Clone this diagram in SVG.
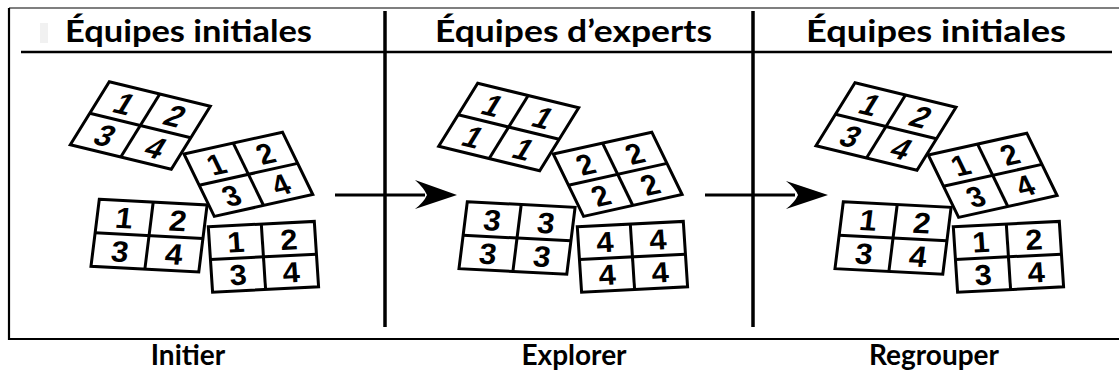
<svg xmlns="http://www.w3.org/2000/svg" width="1119" height="381" viewBox="0 0 1119 381">
  <defs>
    <style>
      .hdr { font-family: Lato, "Open Sans", "Liberation Sans", sans-serif; font-weight: 700; font-size: 31px; fill: #000; }
      .step { font-family: Lato, "Open Sans", "Liberation Sans", sans-serif; font-weight: 700; font-size: 28px; fill: #000; text-anchor: middle; }
      .box { fill: #fff; stroke: #000; stroke-width: 3; vector-effect: non-scaling-stroke; }
      .div { stroke: #000; stroke-width: 3; vector-effect: non-scaling-stroke; }
      .card text { font-family: "Liberation Sans", Arial, sans-serif; font-weight: 700; font-size: 29px; fill: #000; text-anchor: middle; }
      .rule { stroke: #000; fill: none; }
      .conn line { stroke: #000; stroke-width: 3; }
      .conn path { fill: #000; }
    </style>
    <!-- one 2x2 team card in local units (100 x 66) -->
    <g id="grid">
      <rect class="box" x="0" y="0" width="100" height="66"/>
      <line class="div" x1="50" y1="0" x2="50" y2="66"/>
      <line class="div" x1="0" y1="33" x2="100" y2="33"/>
    </g>
  </defs>

  <rect width="1119" height="381" fill="#fff"/>

  <!-- outer frame -->
  <line x1="9" y1="8" x2="1119" y2="8" stroke="#555" stroke-width="1.5"/>
  <path class="rule" d="M9,8 V339 H1119" stroke-width="2.2" stroke="#111"/>
  <rect x="40" y="23" width="8" height="20" fill="#f1f1f1"/>

  <!-- header band -->
  <g id="headers">
    <text class="hdr" x="65" y="42" textLength="247" lengthAdjust="spacingAndGlyphs">Équipes initiales</text>
    <text class="hdr" x="435" y="42" textLength="277" lengthAdjust="spacingAndGlyphs">Équipes d’experts</text>
    <text class="hdr" x="806" y="42" textLength="260" lengthAdjust="spacingAndGlyphs">Équipes initiales</text>
    <line class="rule" x1="21" y1="52" x2="1112" y2="52" stroke-width="2.6"/>
  </g>

  <!-- column dividers -->
  <line class="rule" x1="385" y1="11" x2="385" y2="327" stroke-width="3.5"/>
  <line class="rule" x1="753" y1="11" x2="753" y2="327" stroke-width="3.5"/>

  <!-- panel 1: initial teams -->
  <g id="panel-initier">
    <g id="p1-team-a" class="card" transform="matrix(1.01,0.245,-0.591,0.955,109.3,81.7)">
      <use href="#grid"/>
      <text x="25" y="27">1</text><text x="75" y="27">2</text>
      <text x="25" y="60">3</text><text x="75" y="60">4</text>
    </g>
    <g id="p1-team-b" class="card" transform="matrix(0.985,-0.218,0.459,0.945,184,154)">
      <use href="#grid"/>
      <text x="25" y="27">1</text><text x="75" y="27">2</text>
      <text x="25" y="60">3</text><text x="75" y="60">4</text>
    </g>
    <g id="p1-team-c" class="card" transform="matrix(1.078,0.056,-0.126,1.015,99.3,199.3)">
      <use href="#grid"/>
      <text x="25" y="27">1</text><text x="75" y="27">2</text>
      <text x="25" y="60">3</text><text x="75" y="60">4</text>
    </g>
    <g id="p1-team-d" class="card" transform="matrix(1.06,-0.053,0.065,0.992,208.3,226.7)">
      <use href="#grid"/>
      <text x="25" y="27">1</text><text x="75" y="27">2</text>
      <text x="25" y="60">3</text><text x="75" y="60">4</text>
    </g>
  </g>

  <!-- panel 2: expert teams -->
  <g id="panel-explorer">
    <g id="p2-team-1" class="card" transform="matrix(1.01,0.245,-0.591,0.955,477.7,83.3)">
      <use href="#grid"/>
      <text x="25" y="27">1</text><text x="75" y="27">1</text>
      <text x="25" y="60">1</text><text x="75" y="60">1</text>
    </g>
    <g id="p2-team-2" class="card" transform="matrix(0.985,-0.218,0.459,0.945,553.3,154)">
      <use href="#grid"/>
      <text x="25" y="27">2</text><text x="75" y="27">2</text>
      <text x="25" y="60">2</text><text x="75" y="60">2</text>
    </g>
    <g id="p2-team-3" class="card" transform="matrix(1.078,0.056,-0.126,1.015,467.3,201.7)">
      <use href="#grid"/>
      <text x="25" y="27">3</text><text x="75" y="27">3</text>
      <text x="25" y="60">3</text><text x="75" y="60">3</text>
    </g>
    <g id="p2-team-4" class="card" transform="matrix(1.06,-0.053,0.065,0.992,577.3,226.7)">
      <use href="#grid"/>
      <text x="25" y="27">4</text><text x="75" y="27">4</text>
      <text x="25" y="60">4</text><text x="75" y="60">4</text>
    </g>
  </g>

  <!-- panel 3: regrouped teams -->
  <g id="panel-regrouper">
    <g id="p3-team-a" class="card" transform="matrix(1.01,0.245,-0.591,0.955,855,82.7)">
      <use href="#grid"/>
      <text x="25" y="27">1</text><text x="75" y="27">2</text>
      <text x="25" y="60">3</text><text x="75" y="60">4</text>
    </g>
    <g id="p3-team-b" class="card" transform="matrix(0.985,-0.218,0.459,0.945,928.3,155)">
      <use href="#grid"/>
      <text x="25" y="27">1</text><text x="75" y="27">2</text>
      <text x="25" y="60">3</text><text x="75" y="60">4</text>
    </g>
    <g id="p3-team-c" class="card" transform="matrix(1.078,0.056,-0.126,1.015,843.3,201.7)">
      <use href="#grid"/>
      <text x="25" y="27">1</text><text x="75" y="27">2</text>
      <text x="25" y="60">3</text><text x="75" y="60">4</text>
    </g>
    <g id="p3-team-d" class="card" transform="matrix(1.06,-0.053,0.065,0.992,953.3,226.7)">
      <use href="#grid"/>
      <text x="25" y="27">1</text><text x="75" y="27">2</text>
      <text x="25" y="60">3</text><text x="75" y="60">4</text>
    </g>
  </g>

  <!-- connectors between the stages -->
  <g id="connectors" class="conn">
    <line x1="335" y1="195" x2="425" y2="195"/>
    <path d="M457,195 L415,180 Q424,188 427,195 Q424,202 415,209 Z"/>
    <line x1="705" y1="195" x2="795" y2="195"/>
    <path d="M828,195 L786,181 Q795,188 798,195 Q795,202 786,209 Z"/>
  </g>

  <!-- stage labels -->
  <g id="steps">
    <text class="step" x="188" y="365">Initier</text>
    <text class="step" x="574" y="365">Explorer</text>
    <text class="step" x="934" y="365">Regrouper</text>
  </g>
</svg>
